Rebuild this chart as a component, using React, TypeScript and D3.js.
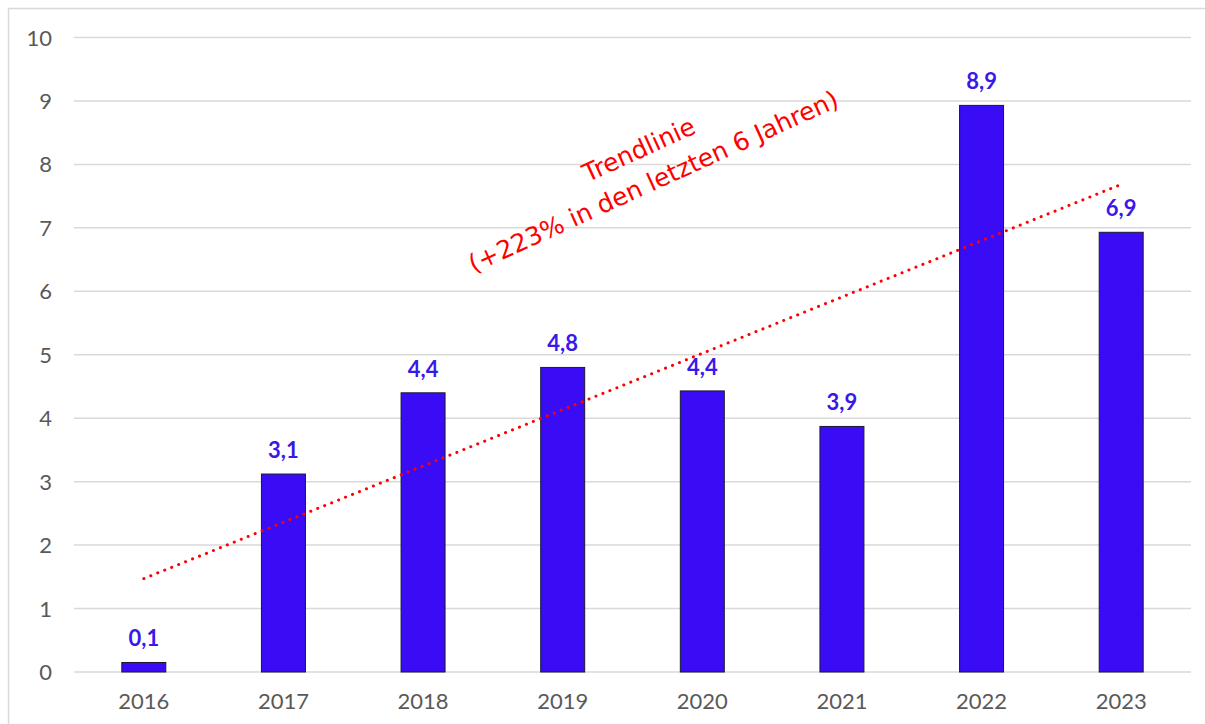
import React from 'react';
import * as d3 from 'd3';

const years = ['2016', '2017', '2018', '2019', '2020', '2021', '2022', '2023'];
const values = [0.15, 3.12, 4.4, 4.8, 4.43, 3.87, 8.93, 6.93];
const labels = ['0,1', '3,1', '4,4', '4,8', '4,4', '3,9', '8,9', '6,9'];
const yTicks = [0, 1, 2, 3, 4, 5, 6, 7, 8, 9, 10];
const trendText = ['Trendlinie', '(+223% in den letzten 6 Jahren)'];

const W = 1205;
const H = 724;
const margin = { left: 74, right: 14, top: 37.5, bottom: 52 };

export default function App() {
  const x = d3.scaleBand<string>()
    .domain(years)
    .range([margin.left, W - margin.right])
    .paddingInner(0.685)
    .paddingOuter(0.3425);
  const xc = (d: string) => (x(d) as number) + x.bandwidth() / 2;
  const y = d3.scaleLinear().domain([0, 10]).range([H - margin.bottom, margin.top]);

  // linear regression for the trend line
  const idx = values.map((_, i) => i);
  const mx = d3.mean(idx) as number;
  const my = d3.mean(values) as number;
  const slope = d3.sum(idx, i => (i - mx) * (values[i] - my)) / d3.sum(idx, i => (i - mx) ** 2);
  const icpt = my - slope * mx;
  const trend = d3.line<number>()
    .x(i => xc(years[i]))
    .y(i => y(icpt + slope * i));

  return (
    <div style={{ position: 'fixed', left: 0, top: 0, width: W, height: H, overflow: 'hidden', background: '#fff' }}>
      <svg width={W} height={H}>
        <rect x={8.5} y={8.5} width={W} height={H} fill="#fff" stroke="#d9d9d9" strokeWidth={1.5} />
        {yTicks.map(t => (
          <g key={t}>
            <line x1={margin.left} x2={W - margin.right} y1={y(t)} y2={y(t)} stroke="#d9d9d9" strokeWidth={1.5} />
            <text x={52} y={y(t) + 8} textAnchor="end" fontFamily="Lato, sans-serif" fontSize={22} fill="#595959">{t}</text>
          </g>
        ))}
        {years.map((d, i) => (
          <g key={d}>
            <rect x={x(d)} y={y(values[i])} width={x.bandwidth()} height={y(0) - y(values[i])}
              fill="#3a0cf5" stroke="#1a1a2e" strokeWidth={1} />
            <text x={xc(d)} y={y(values[i]) - 16} textAnchor="middle" fontFamily="Lato, sans-serif"
              fontWeight="bold" fontSize={22} fill="#3a18ea">{labels[i]}</text>
            <text x={xc(d)} y={709} textAnchor="middle" fontFamily="Lato, sans-serif" fontSize={22} fill="#595959">{d}</text>
          </g>
        ))}
        <path d={trend([0, 7]) as string} fill="none" stroke="#ff0000" strokeWidth={3}
          strokeLinecap="round" strokeDasharray="0.1 7.4" />
        <g transform="translate(654,183) rotate(-24.5)" fontFamily="'DejaVu Sans', sans-serif" fontSize={25} fill="#ff0000" textAnchor="middle">
          <text x={0} y={-28}>{trendText[0]}</text>
          <text x={0} y={7}>{trendText[1]}</text>
        </g>
      </svg>
    </div>
  );
}
